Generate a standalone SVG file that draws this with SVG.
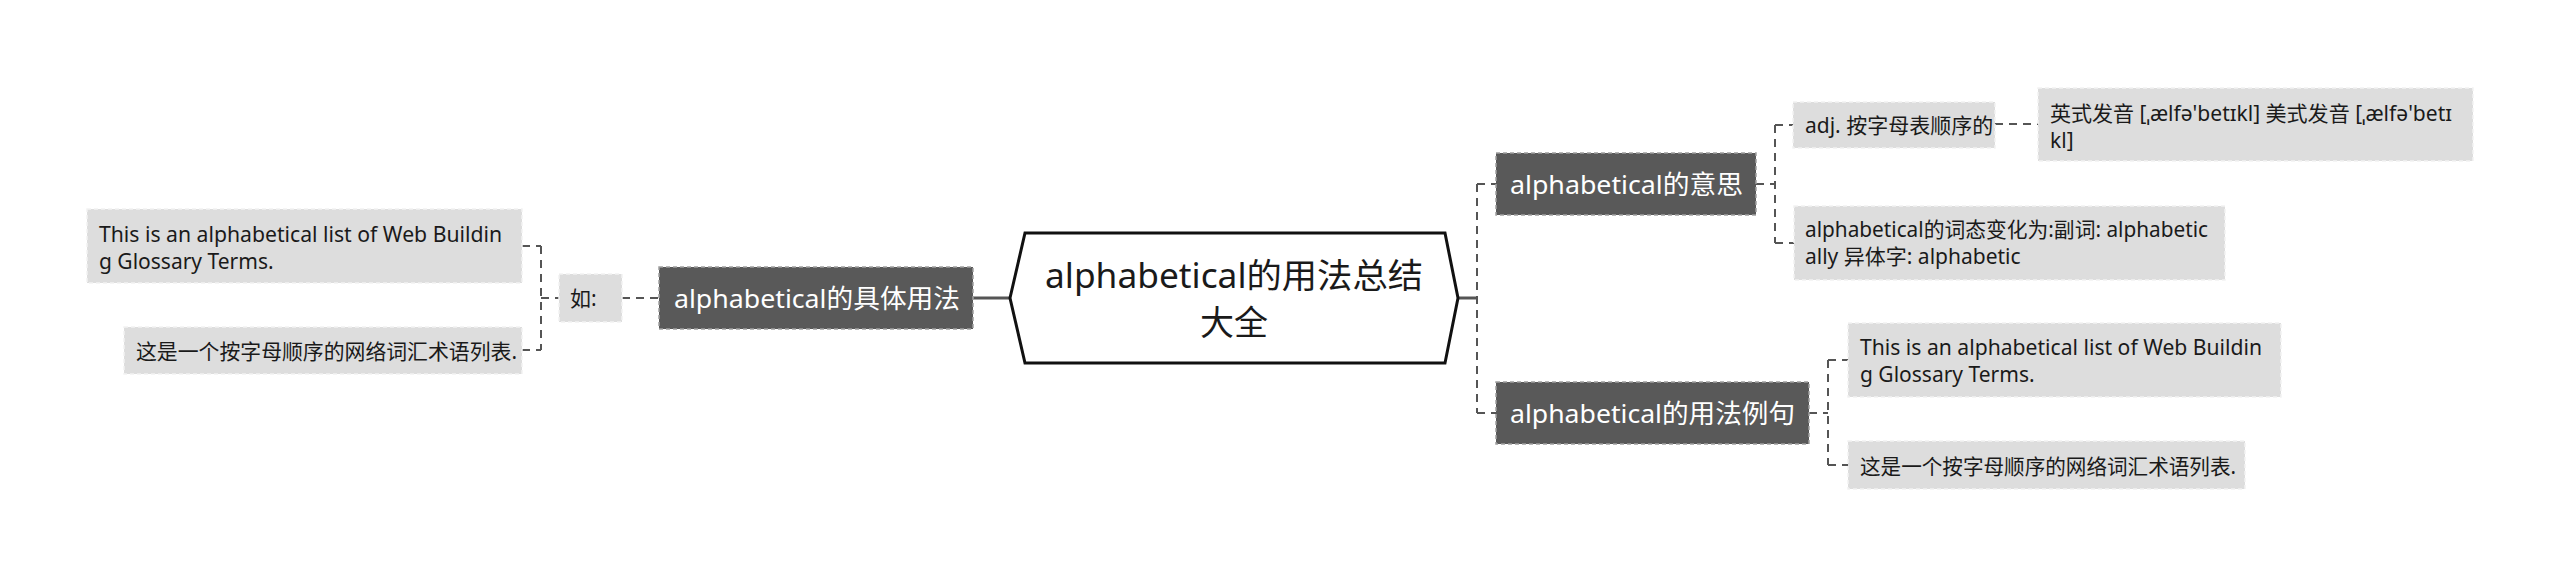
<svg xmlns="http://www.w3.org/2000/svg" width="2560" height="577" viewBox="0 0 2560 577">
<style>
text{font-family:"Noto Sans","Noto Sans CJK SC",sans-serif}
.dk{fill:#595959;stroke:#a0a0a0;stroke-width:1.5;stroke-dasharray:4 3}
.lt{fill:#dddddd;stroke:#f2f2f2;stroke-width:1.5;stroke-dasharray:4 3}
.wt{fill:#ffffff;font-size:26px}
.st{fill:#1a1a1a;font-size:21px}
.ct{fill:#1a1a1a;font-size:34px;text-anchor:middle}
.dash{fill:none;stroke:#555555;stroke-width:2;stroke-dasharray:8 6}
.solid{fill:none;stroke:#555555;stroke-width:3}
</style>
<rect width="2560" height="577" fill="#ffffff"/>
<g id="connectors">
<path class="solid" d="M973 298H1010"/>
<path class="solid" d="M1458 298H1477"/>
<path class="dash" d="M622 298H659"/>
<path class="dash" d="M541 246V350M522 246H541M541 298H559M522 350H541"/>
<path class="dash" d="M1477 184V413M1477 184H1496M1477 413H1496"/>
<path class="dash" d="M1775 125V243M1756 184H1775M1775 125H1793M1775 243H1794"/>
<path class="dash" d="M1995 124H2038"/>
<path class="dash" d="M1828 360V465M1809 413H1828M1828 360H1848M1828 465H1848"/>
</g>
<g id="center">
<polygon points="1010,298 1025,233 1445,233 1458,298 1445,363 1025,363" fill="#ffffff" stroke="#111111" stroke-width="3"/>
<text class="ct" x="1234" y="288" textLength="378" lengthAdjust="spacingAndGlyphs">alphabetical的用法总结</text>
<text class="ct" x="1234" y="335">大全</text>
</g>
<g id="node-left">
<rect class="dk" x="659" y="267" width="314" height="62"/>
<text class="wt" x="674" y="308" textLength="286" lengthAdjust="spacingAndGlyphs">alphabetical的具体用法</text>
</g>
<g id="node-ru">
<rect class="lt" x="559" y="274" width="63" height="48"/>
<text class="st" x="570" y="306">如:</text>
</g>
<g id="node-left-ex1">
<rect class="lt" x="87" y="209" width="435" height="74"/>
<text class="st" x="99" y="242" textLength="403" lengthAdjust="spacingAndGlyphs">This is an alphabetical list of Web Buildin</text>
<text class="st" x="99" y="269">g Glossary Terms.</text>
</g>
<g id="node-left-ex2">
<rect class="lt" x="124" y="327" width="398" height="47"/>
<text class="st" x="136" y="359" textLength="381" lengthAdjust="spacingAndGlyphs">这是一个按字母顺序的网络词汇术语列表.</text>
</g>
<g id="node-meaning">
<rect class="dk" x="1496" y="153" width="260" height="62"/>
<text class="wt" x="1510" y="194" textLength="233" lengthAdjust="spacingAndGlyphs">alphabetical的意思</text>
</g>
<g id="node-adj">
<rect class="lt" x="1793" y="102" width="202" height="46"/>
<text class="st" x="1805" y="133">adj. 按字母表顺序的</text>
</g>
<g id="node-pron">
<rect class="lt" x="2038" y="88" width="435" height="73"/>
<text class="st" x="2050" y="121" textLength="402" lengthAdjust="spacingAndGlyphs">英式发音 [ˌælfə'betɪkl] 美式发音 [ˌælfə'betɪ</text>
<text class="st" x="2050" y="148">kl]</text>
</g>
<g id="node-forms">
<rect class="lt" x="1794" y="206" width="431" height="74"/>
<text class="st" x="1805" y="237" textLength="403" lengthAdjust="spacingAndGlyphs">alphabetical的词态变化为:副词: alphabetic</text>
<text class="st" x="1805" y="264">ally 异体字: alphabetic</text>
</g>
<g id="node-examples">
<rect class="dk" x="1496" y="382" width="313" height="62"/>
<text class="wt" x="1510" y="423" textLength="285" lengthAdjust="spacingAndGlyphs">alphabetical的用法例句</text>
</g>
<g id="node-right-ex1">
<rect class="lt" x="1848" y="323" width="433" height="74"/>
<text class="st" x="1860" y="355" textLength="402" lengthAdjust="spacingAndGlyphs">This is an alphabetical list of Web Buildin</text>
<text class="st" x="1860" y="382">g Glossary Terms.</text>
</g>
<g id="node-right-ex2">
<rect class="lt" x="1848" y="441" width="397" height="48"/>
<text class="st" x="1860" y="474" textLength="376" lengthAdjust="spacingAndGlyphs">这是一个按字母顺序的网络词汇术语列表.</text>
</g>
</svg>
